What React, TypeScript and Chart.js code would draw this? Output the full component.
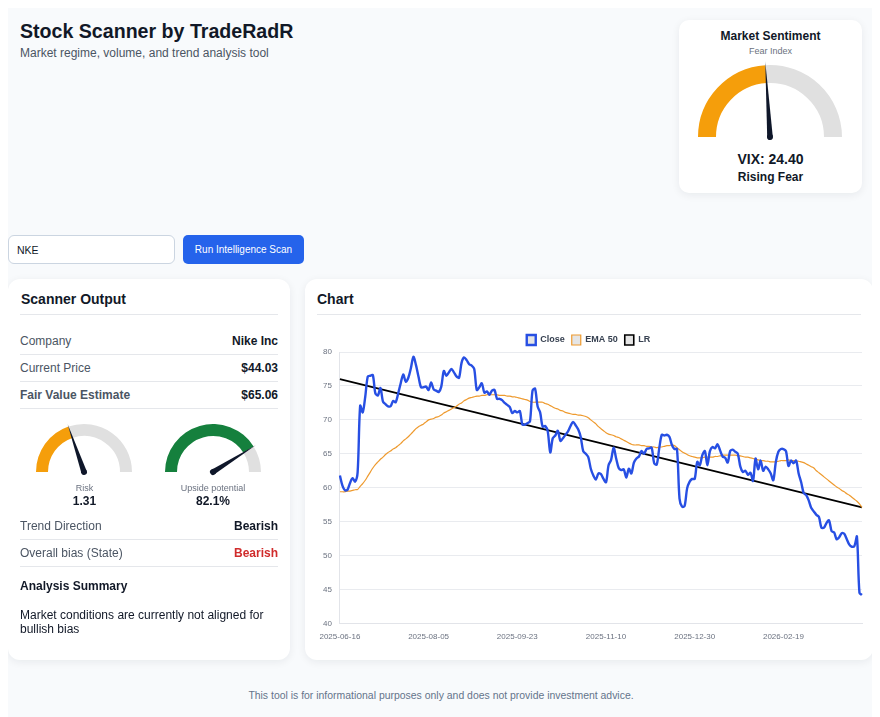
import React, { useEffect, useRef } from "react";
import Chart from "chart.js/auto";

const tickDates = ["2025-06-16", "2025-08-05", "2025-09-23", "2025-11-10", "2025-12-30", "2026-02-19"];
const tickEvery = 35;

const closeValues = [
  61.8, 60.3, 59.6, 59.7, 60.7, 61.4, 60.9, 62.3, 72.1, 71.1,
  73.4, 76.4, 76.5, 76.6, 73.9, 73.6, 74.7, 72.7, 72.3, 72.0,
  72.0, 72.8, 72.6, 73.9, 75.4, 76.7, 75.6, 76.2, 77.6, 79.3,
  78.1, 76.4, 74.8, 74.8, 74.9, 74.4, 75.5, 74.5, 74.3, 74.1,
  74.9, 77.2, 76.5, 77.0, 77.5, 77.0, 76.4, 76.2, 78.4, 79.2,
  78.8, 78.2, 78.0, 77.5, 74.4, 74.8, 75.4, 74.0, 74.2, 73.7,
  74.3, 74.4, 73.1, 73.1, 72.9, 72.5, 72.2, 71.9, 71.0, 71.3,
  71.1, 71.3, 69.3, 69.3, 69.5, 69.8, 74.3, 74.6, 72.0, 71.1,
  69.0, 69.1, 68.3, 65.2, 67.3, 67.7, 68.4, 66.9, 67.3, 67.8,
  68.3, 69.1, 69.7, 69.2, 68.6, 67.5, 65.4, 65.0, 64.5, 62.8,
  61.8, 61.2, 62.1, 62.0, 61.3, 60.8, 63.3, 64.1, 65.9, 64.3,
  62.9, 62.6, 62.7, 61.5, 62.8, 62.1, 63.7, 64.3, 64.6, 65.4,
  65.0, 65.7, 65.8, 65.9, 63.6, 63.4, 65.8, 67.8, 67.7, 67.8,
  67.5, 66.3, 65.7, 65.7, 58.4, 57.2, 57.3, 59.9, 60.9, 61.3,
  61.3, 63.8, 63.3, 64.8, 65.4, 63.3, 65.4, 66.0, 65.8, 66.4,
  65.5, 64.6, 64.4, 63.7, 65.4, 65.6, 65.3, 65.0, 63.1, 62.3,
  62.5, 61.9, 62.2, 61.0, 64.3, 62.7, 64.0, 62.5, 63.1, 62.7,
  62.1, 61.1, 63.8, 65.3, 65.7, 65.7, 65.4, 63.2, 64.0, 63.6,
  64.0, 62.1, 60.8, 59.2, 58.9, 58.1, 57.0, 56.5, 56.0, 55.7,
  54.1, 54.1, 54.8, 55.2, 53.6, 53.4, 52.4, 52.7, 53.3, 53.2,
  52.4, 51.6, 51.3, 51.4, 52.8, 44.5, 44.2,
];

const emaValues = [
  59.4, 59.4, 59.4, 59.5, 59.5, 59.6, 59.7, 59.75, 60.2, 60.6,
  61.1, 61.7, 62.3, 62.9, 63.4, 63.8, 64.2, 64.5, 64.9, 65.2,
  65.4, 65.7, 65.9, 66.2, 66.5, 66.9, 67.2, 67.5, 67.9, 68.3,
  68.7, 69.0, 69.2, 69.4, 69.7, 70.0, 70.1, 70.2, 70.4, 70.5,
  70.7, 71.0, 71.2, 71.4, 71.6, 71.8, 72.0, 72.3, 72.5, 72.8,
  73.0, 73.2, 73.3, 73.4, 73.5, 73.5, 73.6, 73.6, 73.7, 73.7,
  73.7, 73.7, 73.7, 73.6, 73.6, 73.6, 73.5, 73.5, 73.4, 73.4,
  73.3, 73.2, 73.1, 73.0, 72.9, 72.7, 72.6, 72.6, 72.6, 72.6,
  72.6, 72.4, 72.3, 72.1, 71.9, 71.7, 71.6, 71.4, 71.3, 71.1,
  71.0, 70.9, 70.8, 70.8, 70.7, 70.7, 70.6, 70.5, 70.3, 70.0,
  69.7, 69.4, 69.0, 68.7, 68.4, 68.1, 67.9, 67.8, 67.7, 67.5,
  67.4, 67.2, 67.0, 66.8, 66.6, 66.4, 66.3, 66.3, 66.3, 66.2,
  66.2, 66.1, 66.1, 66.0, 66.0, 65.9, 66.0, 66.0, 66.1, 66.2,
  66.2, 66.3, 66.2, 65.9, 65.6, 65.3, 65.1, 64.9, 64.7, 64.6,
  64.5, 64.4, 64.4, 64.4, 64.5, 64.5, 64.5, 64.5, 64.6, 64.6,
  64.7, 64.8, 64.8, 64.8, 64.8, 64.8, 64.8, 64.7, 64.7, 64.6,
  64.5, 64.5, 64.4, 64.3, 64.2, 64.1, 64.0, 64.0, 63.9, 63.9,
  63.8, 63.8, 63.8, 63.9, 64.0, 64.0, 64.0, 64.1, 64.0, 64.0,
  63.9, 63.9, 63.8, 63.7, 63.5, 63.3, 63.1, 62.9, 62.5, 62.2,
  61.9, 61.6, 61.3, 61.0, 60.7, 60.4, 60.1, 59.9, 59.6, 59.4,
  59.1, 58.9, 58.6, 58.3, 58.0, 57.6, 57.1,
];

// regression line, only the two ends are needed
const lrStart = 76.0;
const lrEnd = 57.1;

const fearValue = 48;
const riskValue = 39.5;
const upsideValue = 82.1;

const FONT = "'Liberation Sans', Arial, sans-serif";
const NAVY = "#111827";

const needlePlugin = {
  id: "needle",
  afterDatasetsDraw(chart: any) {
    const arc = chart.getDatasetMeta(0).data[0];
    const data = chart.data.datasets[0].data;
    const share = data[0] / (data[0] + data[1]);
    const angle = Math.PI * (share - 1);
    const len = arc.outerRadius * 1.05;
    const { ctx } = chart;
    ctx.save();
    ctx.translate(arc.x, arc.y);
    ctx.rotate(angle);
    ctx.fillStyle = "#0f172a";
    ctx.beginPath();
    ctx.moveTo(0, -2.8);
    ctx.lineTo(len, 0);
    ctx.lineTo(0, 2.8);
    ctx.closePath();
    ctx.fill();
    ctx.beginPath();
    ctx.arc(0, 0, 3, 0, Math.PI * 2);
    ctx.fill();
    ctx.restore();
  },
};

// pulls the plot area a little closer to the legend
const legendGapPlugin = {
  id: "legendGap",
  beforeLayout(chart: any) {
    const legend = chart.legend;
    if (!legend || legend.gapPatched) return;
    const fit = legend.fit;
    legend.fit = function () {
      fit.call(legend);
      legend.height -= 3;
    };
    legend.gapPatched = true;
  },
};

function Gauge(props: { value: number; color: string; cx: number; cy: number; r: number; thick: number }) {
  const ref = useRef<HTMLCanvasElement>(null);
  const { value, color, cx, cy, r, thick } = props;
  const w = r * 2 + 16;
  const h = r + 18;

  useEffect(() => {
    const ctx = ref.current?.getContext("2d");
    if (!ctx) return;
    const chart = new Chart(ctx, {
      type: "doughnut",
      data: {
        datasets: [
          {
            data: [value, 100 - value],
            backgroundColor: [color, "#e0e0e0"],
            borderWidth: 0,
          },
        ],
      },
      options: {
        responsive: false,
        animation: false,
        rotation: -90,
        circumference: 180,
        radius: r,
        cutout: `${((r - thick) / r) * 100}%`,
        plugins: { legend: { display: false }, tooltip: { enabled: false } },
      },
      plugins: [needlePlugin],
    } as any);
    return () => chart.destroy();
  }, []);

  // doughnut centre sits at h/2 + r/2 inside the canvas
  const top = cy - (h / 2 + r / 2);
  return (
    <canvas
      ref={ref}
      width={w}
      height={h}
      style={{ position: "absolute", left: cx - w / 2 - 8, top: top - 8, width: w, height: h }}
    />
  );
}

function PriceChart() {
  const ref = useRef<HTMLCanvasElement>(null);

  useEffect(() => {
    const ctx = ref.current?.getContext("2d");
    if (!ctx) return;
    const labels = closeValues.map((_, i) => (i % tickEvery === 0 ? tickDates[i / tickEvery] : ""));
    const last = closeValues.length - 1;
    const chart = new Chart(ctx, {
      type: "line",
      data: {
        labels,
        datasets: [
          {
            label: "Close",
            data: closeValues,
            borderColor: "#274fe3",
            borderWidth: 2.4,
            backgroundColor: "rgba(0,0,0,0.1)",
            pointRadius: 0,
            tension: 0.3,
          },
          {
            label: "EMA 50",
            data: emaValues,
            borderColor: "#ee9a2e",
            borderWidth: 1.2,
            backgroundColor: "rgba(0,0,0,0.1)",
            pointRadius: 0,
            tension: 0.3,
          },
          {
            label: "LR",
            data: closeValues.map((_, i) => (i === 0 ? lrStart : i === last ? lrEnd : null)),
            borderColor: "#000000",
            borderWidth: 1.6,
            backgroundColor: "rgba(0,0,0,0.1)",
            pointRadius: 0,
            spanGaps: true,
          },
        ],
      },
      options: {
        responsive: false,
        animation: false,
        layout: { padding: { right: 1 } },
        plugins: {
          tooltip: { enabled: false },
          legend: {
            labels: {
              boxWidth: 9,
              boxHeight: 10,
              padding: 7,
              color: "#374151",
              font: { family: FONT, size: 9, weight: "bold" },
            },
          },
        },
        scales: {
          x: {
            grid: { display: false },
            border: { color: "#e2e4e9" },
            ticks: {
              autoSkip: false,
              maxRotation: 0,
              padding: 1,
              color: "#6b7280",
              font: { family: FONT, size: 8 },
              callback(_v: any, i: number) {
                return labels[i] || null;
              },
            },
          },
          y: {
            min: 40,
            max: 80,
            grid: { color: "#e9ebef", drawTicks: false },
            border: { color: "#e2e4e9" },
            ticks: {
              stepSize: 5,
              padding: 8,
              color: "#6b7280",
              font: { family: FONT, size: 8 },
            },
          },
        },
      },
      plugins: [legendGapPlugin],
    } as any);
    return () => chart.destroy();
  }, []);

  return (
    <canvas
      ref={ref}
      width={548}
      height={315}
      style={{ position: "absolute", left: 307, top: 320, width: 548, height: 315 }}
    />
  );
}

// all coords are page coords, shifted by the body margin
function T(props: {
  x?: number;
  right?: number;
  cx?: number;
  y: number;
  size: number;
  color?: string;
  bold?: boolean;
  children: React.ReactNode;
}) {
  const { x, right, cx, y, size, color, bold, children } = props;
  const style: React.CSSProperties = {
    position: "absolute",
    top: y - 8 - 10,
    height: 20,
    lineHeight: "20px",
    fontSize: size,
    fontWeight: bold ? 700 : 400,
    color: color || NAVY,
    whiteSpace: "nowrap",
  };
  if (x !== undefined) style.left = x - 8;
  if (right !== undefined) style.right = 873 - right;
  if (cx !== undefined) {
    style.left = cx - 8;
    style.transform = "translateX(-50%)";
  }
  return <div style={style}>{children}</div>;
}

function Rule(props: { x1: number; x2: number; y: number }) {
  return (
    <div
      style={{
        position: "absolute",
        left: props.x1 - 8,
        top: props.y - 8,
        width: props.x2 - props.x1,
        height: 1,
        background: "#e5e7eb",
      }}
    />
  );
}

function Card(props: { x: number; y: number; w: number; h: number; r: number }) {
  return (
    <div
      style={{
        position: "absolute",
        left: props.x - 8,
        top: props.y - 8,
        width: props.w,
        height: props.h,
        borderRadius: props.r,
        background: "#ffffff",
        boxShadow: "0 2px 8px rgba(15,23,42,0.07)",
      }}
    />
  );
}

export default function App() {
  useEffect(() => {
    document.documentElement.style.overflow = "hidden";
  }, []);

  const gray = "#4b5563";

  return (
    <div style={{ position: "relative", width: 865, height: 709, background: "#f8fafc", fontFamily: FONT, overflow: "hidden" }}>
      <T x={20} y={31} size={19.6} bold>Stock Scanner by TradeRadR</T>
      <T x={20} y={53} size={12} color={gray}>Market regime, volume, and trend analysis tool</T>

      <Card x={679} y={20} w={183} h={173} r={10} />
      <T cx={770.5} y={36} size={12} bold>Market Sentiment</T>
      <T cx={770.5} y={51} size={9} color="#6b7280">Fear Index</T>
      <Gauge value={fearValue} color="#f59e0b" cx={770} cy={137} r={72} thick={18} />
      <T cx={770.5} y={159} size={14} bold>VIX: 24.40</T>
      <T cx={770.5} y={177} size={12} bold>Rising Fear</T>

      <div
        style={{
          position: "absolute",
          left: 0,
          top: 227,
          width: 167,
          height: 29,
          boxSizing: "border-box",
          border: "1px solid #cbd5e1",
          borderRadius: 6,
          background: "#ffffff",
        }}
      />
      <T x={17} y={250} size={10.5}>NKE</T>
      <div style={{ position: "absolute", left: 175, top: 227, width: 121, height: 29, borderRadius: 5, background: "#2563eb" }} />
      <T cx={243.5} y={250} size={10} color="#ffffff">Run Intelligence Scan</T>

      <Card x={8} y={279} w={282} h={381} r={12} />
      <T x={21} y={299} size={14} bold>Scanner Output</T>
      <Rule x1={20} x2={278} y={314} />

      <T x={20} y={341} size={12} color={gray}>Company</T>
      <T right={278} y={341} size={12} bold>Nike Inc</T>
      <Rule x1={20} x2={278} y={354} />
      <T x={20} y={368} size={12} color={gray}>Current Price</T>
      <T right={278} y={368} size={12} bold>$44.03</T>
      <Rule x1={20} x2={278} y={381} />
      <T x={20} y={395} size={12} color={gray} bold>Fair Value Estimate</T>
      <T right={278} y={395} size={12} bold>$65.06</T>
      <Rule x1={20} x2={278} y={408} />

      <Gauge value={riskValue} color="#f59e0b" cx={84} cy={472} r={48} thick={12} />
      <T cx={84.5} y={488} size={9} color="#6b7280">Risk</T>
      <T cx={84.5} y={501} size={12} bold>1.31</T>
      <Gauge value={upsideValue} color="#15803d" cx={213} cy={472} r={48} thick={12} />
      <T cx={213} y={488} size={9} color="#6b7280">Upside potential</T>
      <T cx={213} y={501} size={12} bold>82.1%</T>

      <T x={20} y={526} size={12} color={gray}>Trend Direction</T>
      <T right={278} y={526} size={12} bold>Bearish</T>
      <Rule x1={20} x2={278} y={539} />
      <T x={20} y={553} size={12} color={gray}>Overall bias (State)</T>
      <T right={278} y={553} size={12} color="#d02c2c" bold>Bearish</T>
      <Rule x1={20} x2={278} y={566} />
      <T x={20} y={586} size={12} bold>Analysis Summary</T>
      <T x={20} y={615} size={12}>Market conditions are currently not aligned for</T>
      <T x={20} y={629} size={12}>bullish bias</T>

      <Card x={305} y={279} w={568} h={381} r={12} />
      <T x={317} y={299} size={14} bold>Chart</T>
      <Rule x1={317} x2={861} y={314} />
      <PriceChart />

      <T cx={441} y={696} size={10.45} color="#64748b">This tool is for informational purposes only and does not provide investment advice.</T>
    </div>
  );
}
